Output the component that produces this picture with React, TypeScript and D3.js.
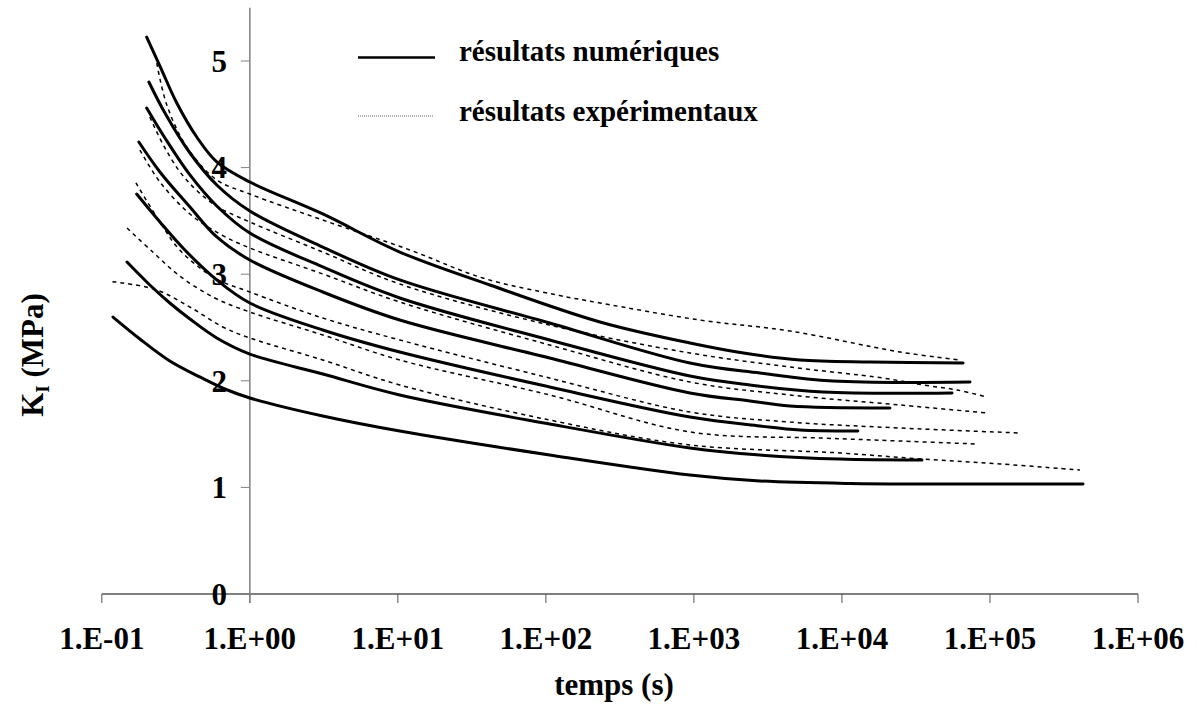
import React from "react";
import * as d3 from "d3";

type Pt = [number, number];

// x: time (s), y: K_I (MPa)
const xTickValues = [1e-1, 1, 1e1, 1e2, 1e3, 1e4, 1e5, 1e6];
const xTickLabels = ["1.E-01", "1.E+00", "1.E+01", "1.E+02", "1.E+03", "1.E+04", "1.E+05", "1.E+06"];
const yTickValues = [0, 1, 2, 3, 4, 5];

// numerical results (solid)
const num1: Pt[] = [[0.201, 5.225], [0.247, 4.953], [0.321, 4.606], [0.438, 4.287], [0.598, 4.054], [1, 3.865], [3.11, 3.565], [10.3, 3.208], [41.9, 2.899], [232, 2.552], [940, 2.355], [2390, 2.251], [5200, 2.195], [15500, 2.176], [65800, 2.167]];
const num2: Pt[] = [[0.208, 4.803], [0.267, 4.512], [0.394, 4.137], [0.598, 3.837], [1, 3.593], [3.11, 3.255], [10.3, 2.946], [106, 2.542], [940, 2.167], [2790, 2.073], [8690, 1.998], [73300, 1.989]];
const num3: Pt[] = [[0.201, 4.559], [0.267, 4.278], [0.394, 3.931], [0.598, 3.64], [1, 3.386], [3.11, 3.068], [10.3, 2.777], [106, 2.383], [940, 2.045], [2390, 1.961], [7440, 1.895], [55400, 1.886]];
const num4: Pt[] = [[0.178, 4.24], [0.247, 3.959], [0.394, 3.63], [0.598, 3.349], [1, 3.133], [3.11, 2.833], [10.3, 2.57], [106, 2.214], [940, 1.886], [2390, 1.811], [4450, 1.764], [21100, 1.745]];
const num5: Pt[] = [[0.172, 3.752], [0.247, 3.49], [0.364, 3.227], [0.598, 2.946], [1, 2.73], [3.11, 2.477], [10.3, 2.27], [106, 1.942], [940, 1.66], [2790, 1.576], [5200, 1.538], [12800, 1.529]];
const num6: Pt[] = [[0.148, 3.114], [0.211, 2.899], [0.288, 2.73], [0.394, 2.58], [0.598, 2.402], [1, 2.251], [3.11, 2.064], [10.3, 1.867], [106, 1.595], [940, 1.37], [2790, 1.304], [9690, 1.266], [34700, 1.257]];
const num7: Pt[] = [[0.119, 2.598], [0.181, 2.392], [0.288, 2.186], [0.459, 2.036], [0.678, 1.923], [1, 1.839], [3.11, 1.67], [10.3, 1.529], [106, 1.304], [940, 1.116], [2790, 1.06], [11330, 1.037], [425000, 1.032]];

// experimental results (dotted)
const exp1: Pt[] = [[0.235, 4.98], [0.275, 4.587], [0.375, 4.193], [0.598, 3.884], [1, 3.752], [3.11, 3.508], [12.05, 3.227], [37.5, 2.964], [119, 2.805], [232, 2.73], [1098, 2.57], [4450, 2.467], [24700, 2.27], [62700, 2.195]];
const exp2: Pt[] = [[0.211, 4.475], [0.267, 4.184], [0.364, 3.902], [0.58, 3.649], [1, 3.49], [3.11, 3.208], [10.3, 2.908], [106, 2.523], [940, 2.261], [4450, 2.129], [18900, 2.026], [35300, 1.961], [59800, 1.914], [95500, 1.848]];
const exp3: Pt[] = [[0.181, 4.165], [0.247, 3.865], [0.394, 3.565], [0.627, 3.377], [1, 3.246], [3.11, 3.002], [10.3, 2.739], [106, 2.336], [940, 1.989], [4450, 1.867], [24700, 1.773], [95500, 1.698]];
const exp4: Pt[] = [[0.17, 3.856], [0.247, 3.49], [0.336, 3.227], [0.58, 2.964], [1, 2.833], [3.11, 2.589], [10.3, 2.383], [106, 2.026], [940, 1.707], [4450, 1.613], [24700, 1.557], [164000, 1.51]];
const exp5: Pt[] = [[0.148, 3.433], [0.221, 3.208], [0.336, 2.983], [0.58, 2.777], [1, 2.645], [3.11, 2.43], [10.3, 2.195], [106, 1.867], [940, 1.52], [7440, 1.463], [24700, 1.435], [83000, 1.407]];
const exp6: Pt[] = [[0.118, 2.93], [0.139, 2.917], [0.235, 2.852], [0.394, 2.692], [0.657, 2.505], [1, 2.402], [3.11, 2.195], [10.3, 1.961], [106, 1.632], [940, 1.398], [9690, 1.323], [34700, 1.266], [117000, 1.22], [405000, 1.163]];

const numericalSeries = [num1, num2, num3, num4, num5, num6, num7];
const experimentalSeries = [exp1, exp2, exp3, exp4, exp5, exp6];

const legendLabels = ["résultats numériques", "résultats expérimentaux"];

const W = 1197;
const H = 709;
const FONT = "'Liberation Serif', 'Times New Roman', serif";

export default function App() {
  const x = d3.scaleLog().domain([0.1, 1e6]).range([101.8, 1138]);
  const y = d3.scaleLinear().domain([0, 5.5]).range([594, 7.7]);
  const line = d3
    .line<Pt>()
    .x((d) => x(d[0]))
    .y((d) => y(d[1]))
    .curve(d3.curveCatmullRom.alpha(0.5));

  const x0 = x(1);
  const y0 = y(0);

  return (
    <svg
      width={W}
      height={H}
      style={{ position: "absolute", left: 0, top: 0, background: "#fff" }}
      fontFamily={FONT}
    >
      <rect x={0} y={0} width={W} height={H} fill="#fff" />
      {/* axes */}
      <line x1={x(0.1)} x2={x(1e6)} y1={y0} y2={y0} stroke="#000" strokeWidth={1} />
      {xTickValues.map((t) => (
        <line key={"xt" + t} x1={x(t)} x2={x(t)} y1={y0} y2={y0 + 9} stroke="#555" strokeWidth={1} />
      ))}
      <line x1={x0} x2={x0} y1={y(5.5)} y2={y0 + 9} stroke="#808080" strokeWidth={1.5} />
      {yTickValues.map((v) => (
        <line key={"yt" + v} x1={x0 - 9} x2={x0} y1={y(v)} y2={y(v)} stroke="#808080" strokeWidth={1} />
      ))}
      {yTickValues.map((v) => (
        <text key={"yl" + v} x={227} y={y(v)} dy="0.35em" textAnchor="end" fontSize={31} fontWeight="bold">
          {v}
        </text>
      ))}
      {xTickValues.map((t, i) => (
        <text key={"xl" + t} x={x(t)} y={649} textAnchor="middle" fontSize={31} fontWeight="bold">
          {xTickLabels[i]}
        </text>
      ))}
      <text x={614} y={695} textAnchor="middle" fontSize={31} fontWeight="bold">
        temps (s)
      </text>
      <text transform={`translate(43, 355) rotate(-90)`} textAnchor="middle" fontSize={31} fontWeight="bold">
        K<tspan fontSize={19} dy={6}>I</tspan>
        <tspan dy={-6}> (MPa)</tspan>
      </text>

      {/* experimental */}
      {experimentalSeries.map((s, i) => (
        <path key={"e" + i} d={line(s) || ""} fill="none" stroke="#000" strokeWidth={1.5} strokeDasharray="4 4" />
      ))}
      {/* numerical */}
      {numericalSeries.map((s, i) => (
        <path key={"n" + i} d={line(s) || ""} fill="none" stroke="#000" strokeWidth={3} strokeLinecap="round" />
      ))}

      {/* legend */}
      <line x1={358} x2={435} y1={57.5} y2={57.5} stroke="#000" strokeWidth={2.5} />
      <text x={459} y={61} fontSize={29} fontWeight="bold">
        {legendLabels[0]}
      </text>
      <line x1={358} x2={433} y1={116} y2={116} stroke="#666" strokeWidth={1} strokeDasharray="1 1" />
      <text x={459} y={121} fontSize={29} fontWeight="bold">
        {legendLabels[1]}
      </text>
    </svg>
  );
}
